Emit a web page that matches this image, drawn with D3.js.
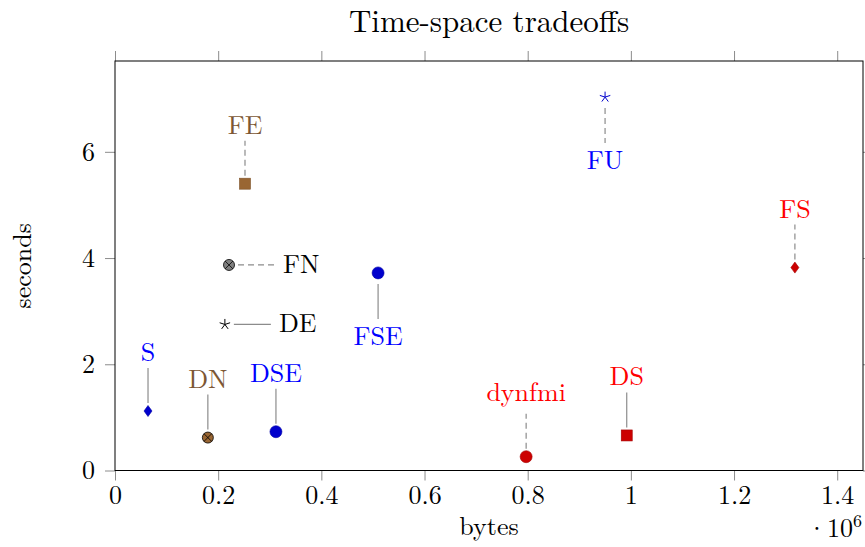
<!DOCTYPE html>
<html>
<head>
<meta charset="utf-8">
<script src="https://cdn.jsdelivr.net/npm/d3@7/dist/d3.min.js"></script>
<style>
  body { margin: 0; background: #fff; }
</style>
</head>
<body>
<svg id="chart" width="865" height="547"></svg>
<script>
// data
var names   = ['S', 'DN', 'DSE', 'FN', 'DE', 'FE', 'FSE', 'dynfmi', 'DS', 'FU', 'FS'];
var bytes   = [64000, 180000, 312000, 221000, 213000, 252000, 510000, 797000, 992000, 950000, 1318000];
var seconds = [1.12, 0.62, 0.73, 3.87, 2.75, 5.40, 3.72, 0.26, 0.66, 7.03, 3.82];
var xTicks  = [0, 200000, 400000, 600000, 800000, 1000000, 1200000, 1400000];
var yTicks  = [0, 2, 4, 6];

// per-point look: marker, fill, label colour, pin side, pin dashed
var look = {
  S:      { mark: 'diamond', fill: '#0000cc', label: '#0000ff', pin: 'up',    dash: false },
  DN:     { mark: 'otimes',  fill: '#996633', label: '#7c5734', pin: 'up',    dash: false },
  DSE:    { mark: 'circle',  fill: '#0000cc', label: '#0000ff', pin: 'up',    dash: false },
  FN:     { mark: 'otimes',  fill: '#808080', label: '#000000', pin: 'right', dash: true },
  DE:     { mark: 'star',    fill: '#000000', label: '#000000', pin: 'right', dash: false },
  FE:     { mark: 'square',  fill: '#996633', label: '#7c5734', pin: 'up',    dash: true },
  FSE:    { mark: 'circle',  fill: '#0000cc', label: '#0000ff', pin: 'down',  dash: false },
  dynfmi: { mark: 'circle',  fill: '#cc0000', label: '#ff0000', pin: 'up',    dash: true },
  DS:     { mark: 'square',  fill: '#cc0000', label: '#ff0000', pin: 'up',    dash: false },
  FU:     { mark: 'star',    fill: '#0000cc', label: '#0000ff', pin: 'down',  dash: true },
  FS:     { mark: 'diamond', fill: '#cc0000', label: '#ff0000', pin: 'up',    dash: true }
};

var FONT = '"Latin Modern Roman", "Liberation Serif", serif';
var FS_NORMAL = 26;

var points = names.map(function (n, i) {
  return { name: n, x: bytes[i], y: seconds[i] };
});

var margin = { top: 61, right: 2, bottom: 76.5, left: 115 };
var width = 865 - margin.left - margin.right;
var height = 547 - margin.top - margin.bottom;

var svg = d3.select('#chart');
var g = svg.append('g')
    .attr('transform', 'translate(' + margin.left + ',' + margin.top + ')');

var x = d3.scaleLinear().domain([0, 1450000]).range([0, width]);
var y = d3.scaleLinear().domain([0, 7.71]).range([height, 0]);

var fmtX = function (d) { return '' + (+(d / 1e6).toFixed(1)); };

function styleAxis(sel) {
  sel.select('.domain').remove();
  sel.selectAll('.tick line').attr('stroke', '#8c8c8c');
  sel.selectAll('.tick text')
    .attr('font-size', FS_NORMAL)
    .attr('fill', '#000');
}

// bottom, top, left, right axes (ticks outside)
g.append('g')
    .attr('transform', 'translate(0,' + height + ')')
    .call(d3.axisBottom(x).tickValues(xTicks).tickFormat(fmtX).tickSizeInner(10).tickSizeOuter(0).tickPadding(5))
    .call(styleAxis);
g.append('g')
    .call(d3.axisTop(x).tickValues(xTicks).tickFormat('').tickSizeInner(10).tickSizeOuter(0))
    .call(styleAxis);
g.append('g')
    .call(d3.axisLeft(y).tickValues(yTicks).tickFormat(d3.format('d')).tickSizeInner(10).tickSizeOuter(0).tickPadding(10))
    .call(styleAxis);
g.append('g')
    .attr('transform', 'translate(' + width + ',0)')
    .call(d3.axisRight(y).tickValues(yTicks).tickFormat('').tickSizeInner(10).tickSizeOuter(0))
    .call(styleAxis);

g.append('rect')
    .attr('width', width)
    .attr('height', height)
    .attr('fill', 'none')
    .attr('stroke', '#000')
    .attr('stroke-width', 1);

// titles
svg.append('text')
    .attr('x', margin.left + width / 2)
    .attr('y', 32)
    .attr('text-anchor', 'middle')
    .attr('font-size', 31)
    .text('Time-space tradeoffs');
svg.append('text')
    .attr('x', margin.left + width / 2)
    .attr('y', 535)
    .attr('text-anchor', 'middle')
    .attr('font-size', FS_NORMAL)
    .text('bytes');
svg.append('text')
    .attr('transform', 'translate(31,' + (margin.top + height / 2) + ') rotate(-90)')
    .attr('text-anchor', 'middle')
    .attr('font-size', FS_NORMAL)
    .text('seconds');
var exp = svg.append('text')
    .attr('x', 862)
    .attr('y', 537)
    .attr('text-anchor', 'end')
    .attr('font-size', FS_NORMAL);
exp.append('tspan').text('\u00b710');
exp.append('tspan').attr('dy', -10).attr('font-size', 18).text('6');

// pins
var pins = g.append('g').selectAll('g')
    .data(points)
    .enter().append('g')
    .attr('transform', function (d) { return 'translate(' + x(d.x) + ',' + y(d.y) + ')'; });

pins.append('line')
    .attr('x1', function (d) { return look[d.name].pin === 'right' ? 9 : 0; })
    .attr('x2', function (d) { return look[d.name].pin === 'right' ? 46 : 0; })
    .attr('y1', function (d) {
      var p = look[d.name].pin;
      return p === 'up' ? -8 : p === 'down' ? 11 : 0;
    })
    .attr('y2', function (d) {
      var p = look[d.name].pin;
      return p === 'up' ? -43 : p === 'down' ? 46 : 0;
    })
    .attr('stroke', '#8c8c8c')
    .attr('stroke-width', 1.2)
    .attr('stroke-dasharray', function (d) { return look[d.name].dash ? '6,4' : null; });

pins.append('text')
    .attr('x', function (d) { return look[d.name].pin === 'right' ? 54 : 0; })
    .attr('y', function (d) {
      var p = look[d.name].pin;
      // a label with a descender sits higher on its pin
      var depth = /[gjpqy]/.test(d.name) ? 6 : 0;
      return p === 'up' ? -50 - depth : p === 'down' ? 72 : 8;
    })
    .attr('text-anchor', function (d) { return look[d.name].pin === 'right' ? 'start' : 'middle'; })
    .attr('font-size', FS_NORMAL)
    .attr('fill', function (d) { return look[d.name].label; })
    .text(function (d) { return d.name; });

// markers
pins.each(function (d) {
  var s = d3.select(this), l = look[d.name];
  var dark = d3.color(l.fill).darker(0.6);
  if (l.mark === 'circle') {
    s.append('circle').attr('r', 6).attr('fill', l.fill).attr('stroke', dark).attr('stroke-width', 0.6);
  } else if (l.mark === 'square') {
    s.append('rect').attr('x', -5.5).attr('y', -5.5).attr('width', 11).attr('height', 11)
      .attr('fill', l.fill).attr('stroke', dark).attr('stroke-width', 0.6);
  } else if (l.mark === 'diamond') {
    s.append('path').attr('d', 'M0,-5.5L4,0L0,5.5L-4,0Z')
      .attr('fill', l.fill).attr('stroke', dark).attr('stroke-width', 0.6);
  } else if (l.mark === 'otimes') {
    s.append('circle').attr('r', 5.5).attr('fill', l.fill).attr('stroke', '#000').attr('stroke-width', 0.8);
    var k = 5.5 * Math.SQRT1_2;
    s.append('path').attr('d', 'M' + (-k) + ',' + (-k) + 'L' + k + ',' + k + 'M' + k + ',' + (-k) + 'L' + (-k) + ',' + k)
      .attr('stroke', '#000').attr('stroke-width', 0.8);
  } else if (l.mark === 'star') {
    var path = d3.path();
    for (var i = 0; i < 5; i++) {
      var a = -Math.PI / 2 + i * 2 * Math.PI / 5;
      path.moveTo(0, 0);
      path.lineTo(5.5 * Math.cos(a), 5.5 * Math.sin(a));
    }
    s.append('path').attr('d', path.toString()).attr('stroke', l.fill).attr('stroke-width', 1).attr('fill', 'none');
  }
});

// one serif font for every text, set inline so the axis defaults do not win
svg.selectAll('text').style('font-family', FONT);
</script>
</body>
</html>
